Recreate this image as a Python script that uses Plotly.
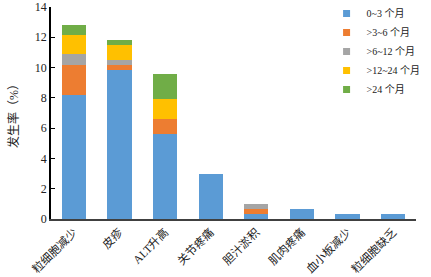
import plotly.graph_objects as go

categories = ["粒细胞减少", "皮疹", "ALT升高", "关节疼痛", "胆汁淤积", "肌肉疼痛", "血小板减少", "粒细胞缺乏"]
series_names = ["0~3 个月", ">3~6 个月", ">6~12 个月", ">12~24 个月", ">24 个月"]
s_0_3 = [8.2, 9.85, 5.6, 3.0, 0.33, 0.66, 0.33, 0.33]
s_3_6 = [2.0, 0.33, 1.0, 0, 0.33, 0, 0, 0]
s_6_12 = [0.67, 0.33, 0, 0, 0.33, 0, 0, 0]
s_12_24 = [1.3, 0.98, 1.3, 0, 0, 0, 0, 0]
s_24 = [0.65, 0.33, 1.65, 0, 0, 0, 0, 0]
colors = ["#5B9BD5", "#ED7D31", "#A5A5A5", "#FFC000", "#70AD47"]
y_ticks = [0, 2, 4, 6, 8, 10, 12, 14]

FONT = "Liberation Serif, Noto Sans CJK SC, serif"

fig = go.Figure()
for name, vals, c in zip(series_names, [s_0_3, s_3_6, s_6_12, s_12_24, s_24], colors):
    fig.add_trace(go.Bar(x=categories, y=vals, name=name, marker_color=c,
                         marker_line_width=0, showlegend=False, hoverinfo="skip"))
    fig.add_trace(go.Scatter(x=[None], y=[None], mode="markers", name=name,
                             marker=dict(symbol="square", size=7, color=c)))

fig.update_layout(
    barmode="stack",
    bargap=0.47,
    width=431, height=277,
    margin=dict(l=51, r=15, t=7, b=58, autoexpand=False),
    plot_bgcolor="white", paper_bgcolor="white",
    font=dict(family=FONT, size=12, color="#222"),
    legend=dict(x=0.755, y=1.038, xanchor="left", yanchor="top", traceorder="normal",
                font=dict(size=10), itemwidth=30, tracegroupgap=0,
                bgcolor="rgba(0,0,0,0)"),
)
fig.update_yaxes(range=[0, 14], tickvals=y_ticks, showline=True, linecolor="black",
                 linewidth=1.5, ticks="inside", ticklen=4, tickcolor="black",
                 showgrid=False, zeroline=False, automargin=False,
                 tickfont=dict(size=12),
                 title=dict(text="发生率（%）", standoff=14, font=dict(size=12)))
fig.update_xaxes(showline=True, linecolor="#404040", linewidth=2, tickangle=-45,
                 showgrid=False, ticks="", tickfont=dict(size=11.5), automargin=False)

fig.write_html("out.html", config={"displayModeBar": False},
               post_script="document.body.style.margin='0';")
